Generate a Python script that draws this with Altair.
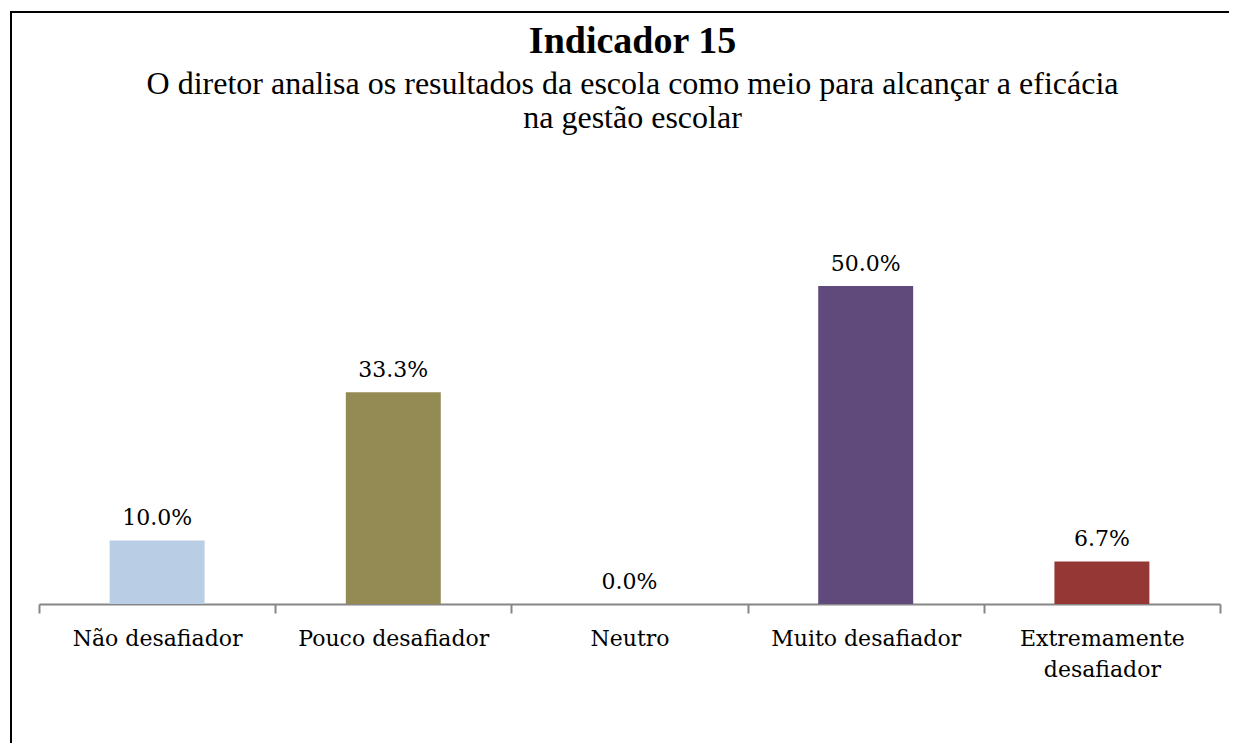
import altair as alt
import pandas as pd

categories = ["Não desafiador", "Pouco desafiador", "Neutro", "Muito desafiador", "Extremamente desafiador"]
values = [10.0, 33.3, 0.0, 50.0, 6.7]
value_labels = ["10.0%", "33.3%", "0.0%", "50.0%", "6.7%"]
colors = ["#B9CDE5", "#948A54", "#4F81BD", "#604A7B", "#953735"]

title_text = "Indicador 15"
subtitle_lines = [
    "O diretor analisa os resultados da escola como meio para alcançar a eficácia",
    "na gestão escolar",
]

df = pd.DataFrame({"cat": categories, "val": values, "lab": value_labels})

W = 1181
H = 318

x_enc = alt.X(
    "cat:N",
    sort=categories,
    scale=alt.Scale(paddingInner=0, paddingOuter=0),
    axis=alt.Axis(
        title=None,
        labelAngle=0,
        tickBand="extent",
        domainColor="#868686",
        domainWidth=2,
        tickColor="#868686",
        tickWidth=2,
        tickSize=9,
        labelFont="DejaVu Serif",
        labelFontSize=22,
        labelColor="black",
        labelPadding=15,
        labelLineHeight=31,
        labelLimit=0,
        labelOverlap=False,
        labelExpr="datum.label == 'Extremamente desafiador' ? ['Extremamente', 'desafiador'] : datum.label",
    ),
)
y_enc = alt.Y("val:Q", scale=alt.Scale(domain=[0, 50]), axis=None)

base = alt.Chart(df)

bars = base.mark_bar(width=alt.RelativeBandSize(0.402)).encode(
    x=x_enc,
    y=y_enc,
    color=alt.Color("cat:N", sort=categories,
                    scale=alt.Scale(domain=categories, range=colors), legend=None),
)

text = base.mark_text(dy=-15, baseline="alphabetic", font="DejaVu Serif",
                      fontSize=22, color="black").encode(
    x=alt.X("cat:N", sort=categories),
    y=alt.Y("val:Q"),
    text="lab:N",
)

frame = alt.Chart(alt.Data(values=[{"a": 1}])).mark_rect(
    fillOpacity=0, stroke="black", strokeWidth=2
).encode(
    x=alt.value(-28), x2=alt.value(1230),
    y=alt.value(-274), y2=alt.value(500),
)

chart = alt.layer(frame, bars, text).properties(
    width=W,
    height=H,
    autosize=alt.AutoSizeParams(type="none"),
    padding={"left": 31, "top": 278, "right": 9, "bottom": 139},
    title=alt.TitleParams(
        text=title_text,
        subtitle=subtitle_lines,
        font="Liberation Serif",
        fontSize=38,
        fontWeight="bold",
        color="black",
        subtitleFont="Liberation Serif",
        subtitleFontSize=32,
        subtitleFontWeight="normal",
        subtitleColor="black",
        subtitleLineHeight=34,
        subtitlePadding=8,
        anchor="middle",
        frame="group",
        dx=3,
        offset=-123,
    ),
).configure_view(stroke=None).configure_title(
    font="Liberation Serif",
    subtitleFont="Liberation Serif",
)

chart.save("out.html", embed_options={"renderer": "svg", "actions": False})
